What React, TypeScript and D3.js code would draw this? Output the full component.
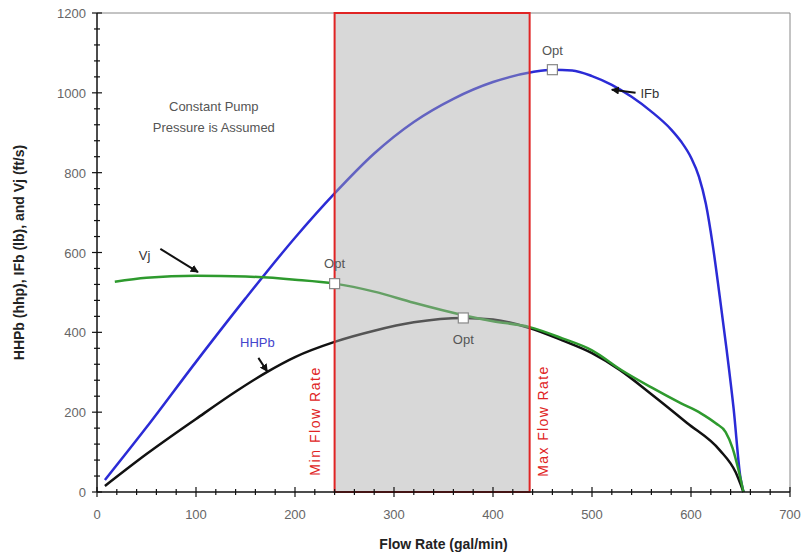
import * as d3 from "d3";

// Bit hydraulics vs flow rate, constant pump pressure.
const FLOW_TICKS = [0, 100, 200, 300, 400, 500, 600, 700];
const VALUE_TICKS = [0, 200, 400, 600, 800, 1000, 1200];

const IFB_FLOW = [8, 50, 100, 150, 200, 240, 280, 320, 360, 400, 440, 460, 480, 500, 520, 540, 560, 580, 590, 600, 608, 615, 622, 629, 636, 643, 650, 653];
const IFB_VALUE = [30, 162, 326, 485, 637, 748, 848, 927, 985, 1027, 1052, 1058, 1056, 1042, 1020, 990, 953, 908, 878, 838, 790, 722, 618, 490, 356, 210, 35, 0];

const VJ_FLOW = [18, 50, 100, 150, 200, 240, 280, 320, 370, 400, 437, 470, 500, 530, 560, 590, 610, 625, 635, 642, 648, 653];
const VJ_VALUE = [527, 537, 542, 540, 532, 522, 502, 474, 443, 428, 413, 385, 355, 305, 262, 222, 197, 172, 150, 110, 55, 0];

const HHP_FLOW = [8, 50, 100, 141, 172, 200, 240, 280, 320, 370, 400, 437, 470, 500, 528, 560, 596, 629, 645, 653];
const HHP_VALUE = [15, 95, 183, 253, 301, 338, 376, 404, 425, 436, 432, 411, 380, 348, 306, 245, 173, 105, 50, 0];

const OPT_FLOW = [460, 240, 370];
const OPT_VALUE = [1058, 522, 436];

const MIN_FLOW = 240;
const MAX_FLOW = 437;

const W = 803;
const H = 559;
const margin = { left: 97, right: 13, top: 13, bottom: 67 };

const BLUE = "#2b2bd6";
const GREEN = "#2e9a2e";
const BLACK = "#111";
const RED = "#e02424";
const FONT = "Liberation Sans, Arial, sans-serif";

export default function App() {
  const x = d3.scaleLinear().domain([0, 700]).range([margin.left, W - margin.right]);
  const y = d3.scaleLinear().domain([0, 1200]).range([H - margin.bottom, margin.top]);

  const line = d3
    .line<[number, number]>()
    .x((d) => x(d[0]))
    .y((d) => y(d[1]))
    .curve(d3.curveMonotoneX);

  const zip = (a: number[], b: number[]) => a.map((v, i) => [v, b[i]] as [number, number]);

  const x0 = x(0), x1 = x(700), y0 = y(0), y1 = y(1200);
  const xMinor = d3.range(0, 701, 20);
  const yMinor = d3.range(0, 1201, 40);

  const arrow = (fx: number, fy: number, tx: number, ty: number) => (
    <line x1={x(fx)} y1={y(fy)} x2={x(tx)} y2={y(ty)} stroke="#111" strokeWidth={2} markerEnd="url(#ah)" />
  );

  return (
    <svg width={W} height={H} style={{ position: "absolute", left: 0, top: 0, background: "#fff" }} fontFamily={FONT}>
      <defs>
        <marker id="ah" viewBox="0 0 10 10" refX="9" refY="5" markerWidth="4" markerHeight="4" orient="auto">
          <path d="M0,0 L10,5 L0,10 z" fill="#111" />
        </marker>
      </defs>

      {/* frame */}
      <line x1={x0} y1={y1} x2={x1} y2={y1} stroke="#888" strokeWidth={1} />
      <line x1={x1} y1={y1} x2={x1} y2={y0} stroke="#888" strokeWidth={1} />

      {/* curves */}
      <path d={line(zip(IFB_FLOW, IFB_VALUE)) ?? ""} fill="none" stroke={BLUE} strokeWidth={2.5} />
      <path d={line(zip(HHP_FLOW, HHP_VALUE)) ?? ""} fill="none" stroke={BLACK} strokeWidth={2.5} />
      <path d={line(zip(VJ_FLOW, VJ_VALUE)) ?? ""} fill="none" stroke={GREEN} strokeWidth={2.5} />

      {/* operating window */}
      <rect x={x(MIN_FLOW)} y={y1} width={x(MAX_FLOW) - x(MIN_FLOW)} height={y0 - y1} fill="#a8a8a8" fillOpacity={0.45} stroke={RED} strokeWidth={2} />
      <text transform={`translate(${x(MIN_FLOW) - 15},${y(176)}) rotate(-90)`} textAnchor="middle" fontSize={14} fill={RED} textLength={108} lengthAdjust="spacing">Min Flow Rate</text>
      <text transform={`translate(${x(MAX_FLOW) + 18},${y(176)}) rotate(-90)`} textAnchor="middle" fontSize={14} fill={RED} textLength={110} lengthAdjust="spacing">Max Flow Rate</text>

      {/* axes */}
      <line x1={x0} y1={y0} x2={x1} y2={y0} stroke="#111" strokeWidth={1.5} />
      <line x1={x0} y1={y0} x2={x0} y2={y1} stroke="#111" strokeWidth={1.5} />
      {xMinor.map((v) => (
        <line key={"xm" + v} x1={x(v)} x2={x(v)} y1={y0 - (v % 100 === 0 ? 5 : 3)} y2={y0 + (v % 100 === 0 ? 5 : 3)} stroke="#111" strokeWidth={1.2} />
      ))}
      {yMinor.map((v) => (
        <line key={"ym" + v} x1={x0 - (v % 200 === 0 ? 5 : 3)} x2={x0 + (v % 200 === 0 ? 5 : 3)} y1={y(v)} y2={y(v)} stroke="#111" strokeWidth={1.2} />
      ))}
      {FLOW_TICKS.map((v) => (
        <text key={"xl" + v} x={x(v)} y={y0 + 27} textAnchor="middle" fontSize={13} fill="#666">{v}</text>
      ))}
      {VALUE_TICKS.map((v) => (
        <text key={"yl" + v} x={x0 - 11} y={y(v) + 5} textAnchor="end" fontSize={13} fill="#666">{v}</text>
      ))}
      <text x={(x0 + x1) / 2} y={H - 10} textAnchor="middle" fontSize={14} fontWeight="bold" fill="#222">Flow Rate (gal/min)</text>
      <text transform={`translate(24,${(y0 + y1) / 2}) rotate(-90)`} textAnchor="middle" fontSize={14} fontWeight="bold" fill="#222">HHPb (hhp), IFb (lb), and Vj (ft/s)</text>

      {/* opt markers */}
      {OPT_FLOW.map((f, i) => (
        <rect key={"opt" + i} x={x(f) - 5} y={y(OPT_VALUE[i]) - 5} width={10} height={10} fill="#fff" stroke="#888" strokeWidth={1.2} />
      ))}
      <text x={x(OPT_FLOW[0])} y={y(OPT_VALUE[0]) - 15} textAnchor="middle" fontSize={13} fill="#555">Opt</text>
      <text x={x(OPT_FLOW[1])} y={y(OPT_VALUE[1]) - 16} textAnchor="middle" fontSize={13} fill="#555">Opt</text>
      <text x={x(OPT_FLOW[2])} y={y(OPT_VALUE[2]) + 26} textAnchor="middle" fontSize={13} fill="#555">Opt</text>

      {/* annotations */}
      <text fontSize={13} fill="#555" textAnchor="middle">
        <tspan x={x(118)} y={y(955)}>Constant Pump</tspan>
        <tspan x={x(118)} dy={21}>Pressure is Assumed</tspan>
      </text>
      <text x={x(48)} y={y(594) + 5} textAnchor="middle" fontSize={13} fill="#333">Vj</text>
      {arrow(64, 609, 102, 551)}
      <text x={x(162)} y={y(376) + 5} textAnchor="middle" fontSize={13} fill="#4444cc">HHPb</text>
      {arrow(163, 336, 172, 302)}
      <text x={x(549)} y={y(1000) + 5} textAnchor="start" fontSize={13} fill="#333">IFb</text>
      {arrow(544, 1000, 520, 1008)}
    </svg>
  );
}
